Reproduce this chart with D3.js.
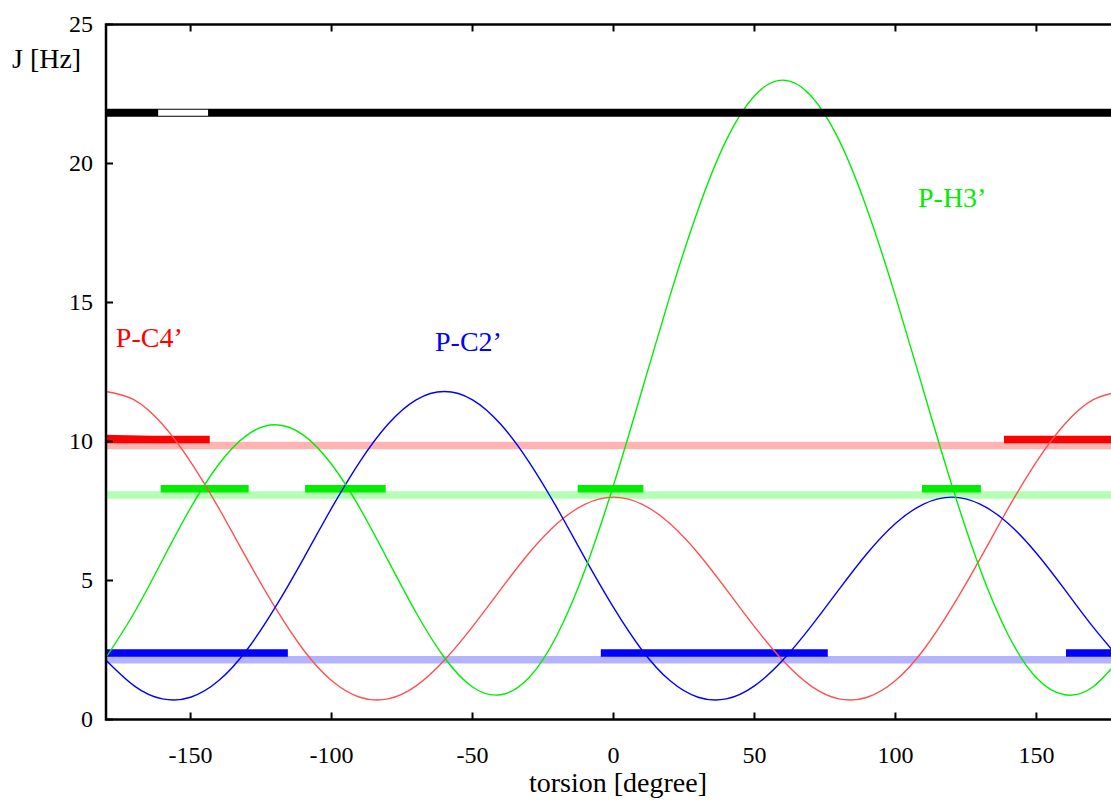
<!DOCTYPE html>
<html>
<head>
<meta charset="utf-8">
<script src="https://cdn.jsdelivr.net/npm/d3@7"></script>
<style>
  html, body { margin: 0; padding: 0; background: #fff; }
  svg { display: block; }
  text { font-family: "Liberation Serif", "Times New Roman", serif; }
</style>
</head>
<body>
<div id="chart"></div>
<script>
// Karplus curves J(torsion), every 10 degrees
const torsion = d3.range(-180, 181, 10);
const pC4 = [11.8, 11.5, 10.62, 9.27, 7.6, 5.78, 4.03, 2.51, 1.4, 0.8, 0.74, 1.21, 2.13, 3.34, 4.68, 5.98, 7.05, 7.75, 8.0,
             7.75, 7.05, 5.98, 4.68, 3.34, 2.13, 1.21, 0.74, 0.8, 1.4, 2.51, 4.03, 5.78, 7.6, 9.27, 10.62, 11.5, 11.8];
const pC2 = [2.13, 1.21, 0.74, 0.8, 1.4, 2.51, 4.03, 5.78, 7.6, 9.27, 10.62, 11.5, 11.8, 11.5, 10.62, 9.27, 7.6, 5.78, 4.03,
             2.51, 1.4, 0.8, 0.74, 1.21, 2.13, 3.34, 4.68, 5.98, 7.05, 7.75, 8.0, 7.75, 7.05, 5.98, 4.68, 3.34, 2.13];
const pH3 = [2.23, 3.84, 5.73, 7.61, 9.18, 10.23, 10.6, 10.23, 9.18, 7.61, 5.73, 3.84, 2.23, 1.17, 0.89, 1.5, 3.04, 5.41, 8.43,
             11.81, 15.23, 18.34, 20.84, 22.44, 23.0, 22.44, 20.84, 18.34, 15.23, 11.81, 8.43, 5.41, 3.04, 1.5, 0.89, 1.17, 2.23];

// measured J values (pale bands) and torsion ranges (dark bars)
const bandJ = { red: 9.86, green: 8.08, blue: 2.15 };
const barJ = { red: 10.07, green: 8.3, blue: 2.39 };
const redRanges = [[-180, -143.2], [138.5, 180]];
const greenRanges = [[-160.6, -129.4], [-109.4, -80.8], [-12.7, 10.6], [109.4, 130.3]];
const blueRanges = [[-180, -115.5], [-4.5, 76], [160.5, 180]];
const blackJ = 21.83;
const whiteRange = [-161.5, -143.8];

const xTicks = [-150, -100, -50, 0, 50, 100, 150];
const yTicks = [0, 5, 10, 15, 20, 25];

const labels = [
  { text: "P-C4\u2019", x: -176.5, y: 13.4, color: "#ff0000" },
  { text: "P-C2\u2019", x: -63.3, y: 13.26, color: "#0000ff" },
  { text: "P-H3\u2019", x: 108, y: 18.44, color: "#00ee00" }
];

const width = 1111, height = 801;

const svg = d3.select("#chart").append("svg")
  .attr("width", width)
  .attr("height", height);

const x = d3.scaleLinear().domain([-180, 180]).range([106, 1121]);
const y = d3.scaleLinear().domain([0, 25]).range([719.5, 24.5]);

// pale bands across the whole range
const bandCol = { red: "#ffb3b3", green: "#b3ffb3", blue: "#b3b3ff" };
Object.keys(bandJ).forEach(k => {
  svg.append("line")
    .attr("x1", x(-180)).attr("x2", x(180))
    .attr("y1", y(bandJ[k])).attr("y2", y(bandJ[k]))
    .attr("stroke", bandCol[k])
    .attr("stroke-width", 7.5);
});

// dark range bars
function bars(ranges, j, color) {
  ranges.forEach(r => {
    svg.append("line")
      .attr("x1", x(r[0])).attr("x2", x(r[1]))
      .attr("y1", y(j)).attr("y2", y(j))
      .attr("stroke", color)
      .attr("stroke-width", 7.5);
  });
}
bars(redRanges, barJ.red, "#ff0000");
bars(greenRanges, barJ.green, "#00ee00");
bars(blueRanges, barJ.blue, "#0000ff");
// slight tilt on the wrapped red bar
svg.append("line")
  .attr("x1", x(-180)).attr("x2", x(-150))
  .attr("y1", y(barJ.red + 0.08)).attr("y2", y(barJ.red))
  .attr("stroke", "#ff0000")
  .attr("stroke-width", 5);

// curves
const line = d3.line()
  .x((d, i) => x(torsion[i]))
  .y(d => y(d))
  .curve(d3.curveNatural);

[[pC4, "#ff5050"], [pC2, "#0000ff"], [pH3, "#00ee00"]].forEach(([vals, col]) => {
  svg.append("path")
    .attr("d", line(vals))
    .attr("fill", "none")
    .attr("stroke", col)
    .attr("stroke-width", 1.4);
});

// black band with white gap
svg.append("line")
  .attr("x1", x(-180)).attr("x2", x(180))
  .attr("y1", y(blackJ)).attr("y2", y(blackJ))
  .attr("stroke", "#000")
  .attr("stroke-width", 8);
svg.append("line")
  .attr("x1", x(whiteRange[0])).attr("x2", x(whiteRange[1]))
  .attr("y1", y(blackJ)).attr("y2", y(blackJ))
  .attr("stroke", "#fff")
  .attr("stroke-width", 6);

// frame
svg.append("rect")
  .attr("x", x(-180)).attr("y", y(25))
  .attr("width", x(180) - x(-180))
  .attr("height", y(0) - y(25))
  .attr("fill", "none")
  .attr("stroke", "#000")
  .attr("stroke-width", 2.5);

// ticks (inward, mirrored)
xTicks.forEach(t => {
  svg.append("line")
    .attr("x1", x(t)).attr("x2", x(t))
    .attr("y1", y(0)).attr("y2", y(0) - 7)
    .attr("stroke", "#000").attr("stroke-width", 2);
  svg.append("line")
    .attr("x1", x(t)).attr("x2", x(t))
    .attr("y1", y(25)).attr("y2", y(25) + 7)
    .attr("stroke", "#000").attr("stroke-width", 2);
  svg.append("text")
    .attr("x", x(t))
    .attr("y", 763)
    .attr("text-anchor", "middle")
    .attr("font-size", "24px")
    .text(t);
});

yTicks.forEach(t => {
  svg.append("line")
    .attr("x1", x(-180)).attr("x2", x(-180) + 7)
    .attr("y1", y(t)).attr("y2", y(t))
    .attr("stroke", "#000").attr("stroke-width", 2);
  svg.append("text")
    .attr("x", 93)
    .attr("y", y(t))
    .attr("dy", "0.33em")
    .attr("text-anchor", "end")
    .attr("font-size", "24px")
    .text(t);
});

// axis titles
svg.append("text")
  .attr("x", 12)
  .attr("y", 68)
  .attr("font-size", "28px")
  .text("J [Hz]");

svg.append("text")
  .attr("x", 618)
  .attr("y", 792)
  .attr("text-anchor", "middle")
  .attr("font-size", "28px")
  .text("torsion [degree]");

// curve labels
labels.forEach(l => {
  svg.append("text")
    .attr("x", x(l.x))
    .attr("y", y(l.y))
    .attr("font-size", "28px")
    .attr("fill", l.color)
    .text(l.text);
});
</script>
</body>
</html>
